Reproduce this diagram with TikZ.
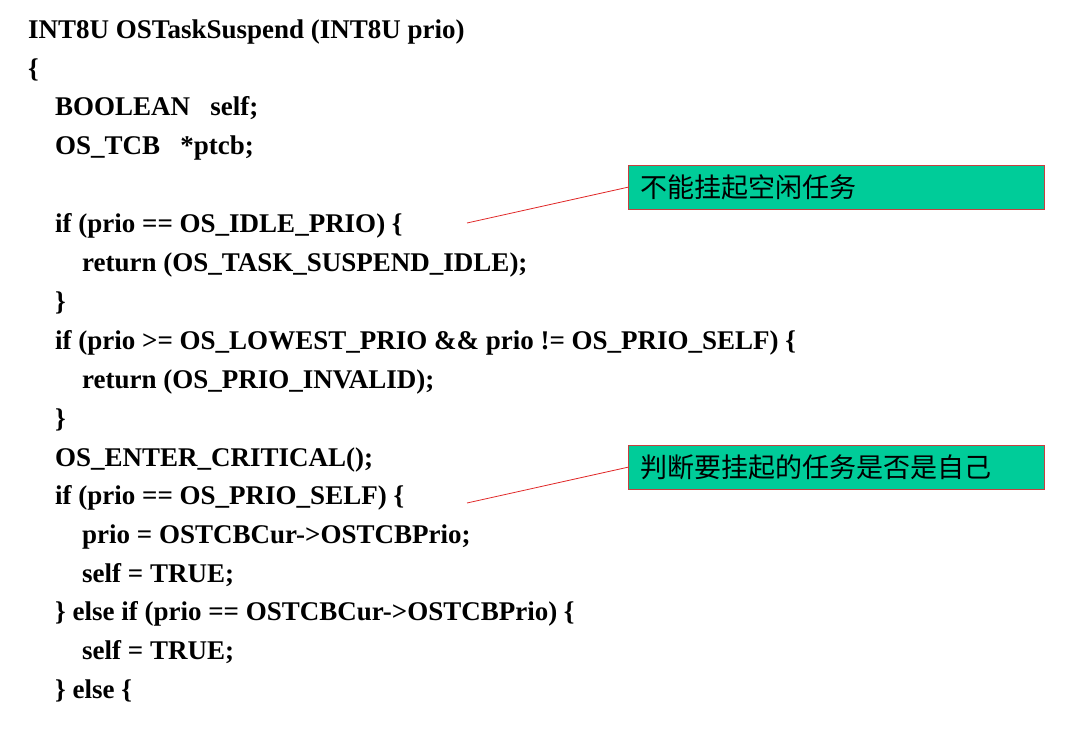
\documentclass[tikz,border=0pt]{standalone}
\usepackage{fontspec}
\setmainfont{Liberation Serif}
\newfontfamily\cjk{Noto Sans CJK SC}
\usetikzlibrary{positioning}
\definecolor{notegreen}{rgb}{0.0, 0.8, 0.6}
\definecolor{notered}{rgb}{0.78, 0.25, 0.25}
\definecolor{linered}{rgb}{0.88, 0.15, 0.15}
\tikzstyle{code} = [anchor=base west,inner sep=0pt,font=\fontsize{27}{32}\selectfont\bfseries]
\tikzstyle{note} = [draw=notered,fill=notegreen,anchor=north west,text width=392pt,inner xsep=12pt,inner ysep=0pt,minimum height=44pt,align=left,font=\cjk\fontsize{27}{30}\selectfont]
\tikzstyle{callout} = [draw=linered,line width=0.8pt]

\begin{document}
\begin{tikzpicture}[x=1pt,y=-1pt]
  \useasboundingbox (0,0) rectangle (1072,733);
  \node (l1)  [code] at (28,39)  {INT8U OSTaskSuspend (INT8U prio)};
  \node (l2)  [code] at (28,78)  {\{};
  \node (l3)  [code] at (55,116) {BOOLEAN\ \ \ self;};
  \node (l4)  [code] at (55,155) {OS\_TCB\ \ \ *ptcb;};
  \node (l5)  [code] at (55,233) {if (prio == OS\_IDLE\_PRIO) \{};
  \node (l6)  [code] at (82,272) {return (OS\_TASK\_SUSPEND\_IDLE);};
  \node (l7)  [code] at (55,310) {\}};
  \node (l8)  [code] at (55,349) {if (prio >= OS\_LOWEST\_PRIO \&\& prio != OS\_PRIO\_SELF) \{};
  \node (l9)  [code] at (82,388) {return (OS\_PRIO\_INVALID);};
  \node (l10) [code] at (55,427) {\}};
  \node (l11) [code] at (55,466) {OS\_ENTER\_CRITICAL();};
  \node (l12) [code] at (55,504) {if (prio == OS\_PRIO\_SELF) \{};
  \node (l13) [code] at (82,543) {prio = OSTCBCur->OSTCBPrio;};
  \node (l14) [code] at (82,582) {self = TRUE;};
  \node (l15) [code] at (55,620) {\} else if (prio == OSTCBCur->OSTCBPrio) \{};
  \node (l16) [code] at (82,659) {self = TRUE;};
  \node (l17) [code] at (55,698) {\} else \{};
  % comments
  \node (note1) [note] at (628,165) {不能挂起空闲任务};
  \node (note2) [note] at (628,445) {判断要挂起的任务是否是自己};
  \coordinate (c1) at (467,223);
  \coordinate (c2) at (467,503);
  \draw [callout] (c1) -- (note1.west);
  \draw [callout] (c2) -- (note2.west);
\end{tikzpicture}
\end{document}
